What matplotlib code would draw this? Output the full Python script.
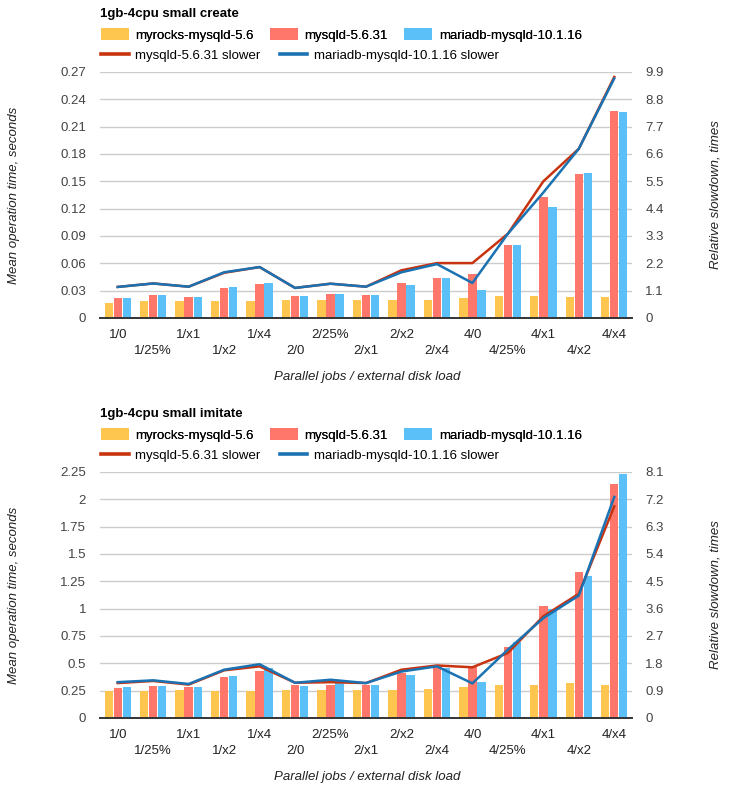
"""Recreate the 1gb-4cpu small create / imitate benchmark charts."""

import matplotlib

matplotlib.use("Agg")
import matplotlib.pyplot as plt
from matplotlib.lines import Line2D
from matplotlib.patches import Patch

plt.rcParams["font.family"] = ["Liberation Sans", "DejaVu Sans"]

categories = [
    "1/0", "1/25%", "1/x1", "1/x2", "1/x4",
    "2/0", "2/25%", "2/x1", "2/x2", "2/x4",
    "4/0", "4/25%", "4/x1", "4/x2", "4/x4",
]

# --- create ---
create_myrocks = [0.0168, 0.0182, 0.0182, 0.0182, 0.0182, 0.0193, 0.0193, 0.0193,
                  0.0193, 0.0193, 0.0215, 0.0237, 0.0237, 0.0226, 0.0226]
create_mysqld = [0.0215, 0.0248, 0.0226, 0.0325, 0.0369, 0.0237, 0.0259, 0.0248,
                 0.0380, 0.0435, 0.0479, 0.0797, 0.1324, 0.1576, 0.2268]
create_mariadb = [0.0215, 0.0248, 0.0226, 0.0336, 0.0380, 0.0237, 0.0259, 0.0248,
                  0.0358, 0.0435, 0.0303, 0.0797, 0.1214, 0.1587, 0.2257]
create_mysqld_slower = [1.25, 1.39, 1.26, 1.82, 2.05, 1.21, 1.38, 1.26,
                        1.92, 2.21, 2.21, 3.39, 5.50, 6.81, 9.70]
create_mariadb_slower = [1.25, 1.39, 1.26, 1.84, 2.05, 1.21, 1.38, 1.26,
                         1.84, 2.17, 1.41, 3.39, 5.05, 6.81, 9.64]

# --- imitate ---
imitate_myrocks = [0.243, 0.243, 0.259, 0.250, 0.243, 0.259, 0.259, 0.259,
                   0.259, 0.268, 0.286, 0.305, 0.305, 0.323, 0.305]
imitate_mysqld = [0.277, 0.295, 0.286, 0.378, 0.427, 0.305, 0.305, 0.305,
                  0.410, 0.470, 0.470, 0.652, 1.027, 1.338, 2.144]
imitate_mariadb = [0.286, 0.295, 0.286, 0.387, 0.457, 0.295, 0.320, 0.305,
                   0.396, 0.457, 0.332, 0.698, 0.994, 1.302, 2.235]
imitate_mysqld_slower = [1.15, 1.22, 1.10, 1.57, 1.70, 1.16, 1.18, 1.15,
                         1.59, 1.73, 1.67, 2.14, 3.35, 4.09, 6.97]
imitate_mariadb_slower = [1.18, 1.24, 1.12, 1.59, 1.77, 1.16, 1.26, 1.15,
                          1.53, 1.70, 1.14, 2.25, 3.29, 4.03, 7.28]

left_ticks_create = [0, 0.03, 0.06, 0.09, 0.12, 0.15, 0.18, 0.21, 0.24, 0.27]
right_ticks_create = [0, 1.1, 2.2, 3.3, 4.4, 5.5, 6.6, 7.7, 8.8, 9.9]
left_ticks_imitate = [0, 0.25, 0.5, 0.75, 1, 1.25, 1.5, 1.75, 2, 2.25]
right_ticks_imitate = [0, 0.9, 1.8, 2.7, 3.6, 4.5, 5.4, 6.3, 7.2, 8.1]

bar_names = ["myrocks-mysqld-5.6", "mysqld-5.6.31", "mariadb-mysqld-10.1.16"]
line_names = ["mysqld-5.6.31 slower", "mariadb-mysqld-10.1.16 slower"]

BAR_COLORS = ["#FEC54F", "#FF766B", "#5BBFF8"]
LINE_COLORS = ["#C8330F", "#1A72B3"]
FS = 9.5
W, H = 734, 800


def fx(px):
    return px / W


def fy(py):
    return 1 - py / H


def draw_chart(fig, top, title, bars, lines, lticks, rticks):
    ax = fig.add_axes([fx(100), fy(top + 246), fx(532), 246 / H])
    x = list(range(len(categories)))
    offsets = [-0.255, 0.0, 0.255]
    for vals, off, color in zip(bars, offsets, BAR_COLORS):
        ax.bar([i + off for i in x], vals, width=0.235, color=color, zorder=2)
    ax.set_xlim(-0.5, len(categories) - 0.5)
    ax.set_ylim(lticks[0], lticks[-1])
    ax.set_yticks(lticks)
    ax.set_yticklabels([f"{round(v, 2):g}" for v in lticks])
    ax.set_xticks(x)
    ax.set_xticklabels([c if i % 2 == 0 else "\n" + c for i, c in enumerate(categories)],
                       linespacing=1.45)
    ax.yaxis.grid(True, color="#CCCCCC", linewidth=1.0)
    ax.set_axisbelow(True)
    for side in ("top", "left", "right"):
        ax.spines[side].set_visible(False)
    ax.spines["bottom"].set_color("#333333")
    ax.spines["bottom"].set_linewidth(1.4)
    ax.spines["bottom"].set_zorder(3)
    ax.tick_params(axis="y", length=0, pad=10, labelsize=FS, labelcolor="#444444")
    ax.tick_params(axis="x", length=0, pad=8, labelsize=FS, labelcolor="#222222")

    ax2 = ax.twinx()
    for vals, color in zip(lines, LINE_COLORS):
        ax2.plot(x, vals, color=color, linewidth=1.8)
    ax2.set_ylim(rticks[0], rticks[-1])
    ax2.set_yticks(rticks)
    ax2.set_yticklabels([f"{round(v, 1):g}" for v in rticks])
    for side in ("top", "left", "right", "bottom"):
        ax2.spines[side].set_visible(False)
    ax2.tick_params(axis="y", length=0, pad=9.5, labelsize=FS, labelcolor="#444444")

    fig.text(fx(100), fy(top - 57.5), title, fontsize=FS, weight="bold", va="center")
    bar_handles = [Patch(facecolor=c, edgecolor="none") for c in BAR_COLORS]
    leg1 = fig.legend(bar_handles, bar_names, loc="center left",
                      bbox_to_anchor=(fx(101), fy(top - 37)), ncol=3, frameon=False,
                      fontsize=FS, handlelength=2.1, handleheight=1.0,
                      handletextpad=0.5, columnspacing=1.25, borderpad=0, borderaxespad=0)
    line_handles = [Line2D([], [], color=c, linewidth=2.6) for c in LINE_COLORS]
    fig.legend(line_handles, line_names, loc="center left",
               bbox_to_anchor=(fx(101), fy(top - 16)), ncol=2, frameon=False,
               fontsize=FS, handlelength=2.1, handletextpad=0.5,
               columnspacing=1.45, borderpad=0, borderaxespad=0)
    fig.add_artist(leg1)

    fig.text(fx(14), fy(top + 123), "Mean operation time, seconds", rotation=90,
             style="italic", fontsize=FS, ha="center", va="center", color="#222222")
    fig.text(fx(716), fy(top + 123), "Relative slowdown, times", rotation=90,
             style="italic", fontsize=FS, ha="center", va="center", color="#222222")
    fig.text(fx(367), fy(top + 305), "Parallel jobs / external disk load",
             style="italic", fontsize=FS, ha="center", va="center", color="#222222")


fig = plt.figure(figsize=(W / 100, H / 100), dpi=100)
draw_chart(fig, 72, "1gb-4cpu small create",
           [create_myrocks, create_mysqld, create_mariadb],
           [create_mysqld_slower, create_mariadb_slower],
           left_ticks_create, right_ticks_create)
draw_chart(fig, 472, "1gb-4cpu small imitate",
           [imitate_myrocks, imitate_mysqld, imitate_mariadb],
           [imitate_mysqld_slower, imitate_mariadb_slower],
           left_ticks_imitate, right_ticks_imitate)
fig.savefig("out.png", dpi=100)
